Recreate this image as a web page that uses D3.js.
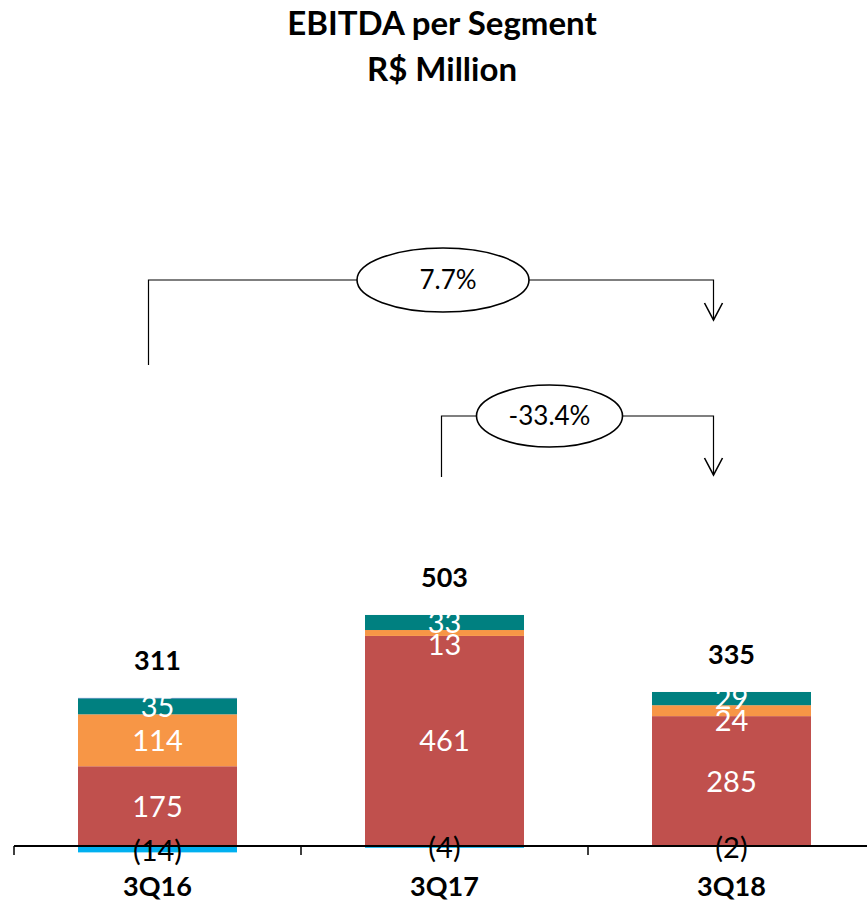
<!DOCTYPE html>
<html><head><meta charset="utf-8">
<script src="https://cdn.jsdelivr.net/npm/d3@7"></script>
<style>
html,body{margin:0;padding:0;background:#fff;}
svg{display:block;font-family:Lato,"Open Sans",sans-serif;}
</style></head>
<body>
<svg id="chart" width="867" height="902"></svg>
<script>
const title = ["EBITDA per Segment", "R$ Million"];
const categories = ["3Q16", "3Q17", "3Q18"];
const seriesRed = [175, 461, 285];
const seriesOrange = [114, 13, 24];
const seriesTeal = [35, 33, 29];
const seriesNavy = [1, 0, 0];
const seriesNegative = [-14, -4, -2];
const totals = [311, 503, 335];
const growthFrom = [0, 1];
const growthTo = [2, 2];
const growthLabels = ["7.7%", "-33.4%"];

const stackOrder = [
  {values: seriesRed, color: "#C0504D", label: true},
  {values: seriesOrange, color: "#F79646", label: true},
  {values: seriesTeal, color: "#008080", label: true},
  {values: seriesNavy, color: "#4472C4", label: false}
];

const svg = d3.select("#chart");
const x = d3.scaleBand().domain(categories).range([14, 875]).paddingInner(0.446).paddingOuter(0.223);
const y = d3.scaleLinear().domain([0, 600]).range([846, 572.6]);

// title
svg.selectAll("text.title").data(title).join("text")
  .attr("x", 442).attr("y", (d, i) => 23 + i * 46)
  .attr("dy", "0.36em")
  .attr("text-anchor", "middle").attr("font-weight", "bold").attr("font-size", 33)
  .text(d => d);

const g = svg.append("g");

categories.forEach((cat, i) => {
  let base = 0;
  const segs = [];
  stackOrder.forEach(s => {
    const v = s.values[i];
    const y0 = y(base), y1 = y(base + v);
    if (v > 0) {
      g.append("rect").attr("x", x(cat)).attr("width", x.bandwidth())
        .attr("y", y1).attr("height", y0 - y1).attr("fill", s.color);
    }
    if (s.label) segs.push({v, c: (y0 + y1) / 2});
    base += v;
  });
  // negative
  const nv = seriesNegative[i];
  g.append("rect").attr("x", x(cat)).attr("width", x.bandwidth())
    .attr("y", y(0)).attr("height", y(nv) - y(0)).attr("fill", "#00B0F0");

  // labels, top-down collision avoidance
  const rev = segs.slice().reverse();
  let prev = -Infinity;
  rev.forEach(s => {
    const cy = Math.max(s.c, prev + 22);
    prev = cy;
    g.append("text").attr("x", x(cat) + x.bandwidth() / 2).attr("y", cy)
      .attr("dy", "0.36em").attr("text-anchor", "middle").attr("fill", "#fff")
      .attr("font-size", 29).text(s.v);
  });
  g.append("text").attr("x", x(cat) + x.bandwidth() / 2).attr("y", (y(0) + y(nv)) / 2 + 1)
    .attr("dy", "0.36em").attr("text-anchor", "middle").attr("fill", "#000")
    .attr("font-size", 29).text("(" + Math.abs(nv) + ")");
  // total
  const top = y(d3.sum(stackOrder, s => s.values[i]));
  g.append("text").attr("x", x(cat) + x.bandwidth() / 2).attr("y", top - 38)
    .attr("dy", "0.36em").attr("text-anchor", "middle").attr("font-weight", "bold")
    .attr("font-size", 27).text(totals[i]);
  // category label
  g.append("text").attr("x", x(cat) + x.bandwidth() / 2).attr("y", 886)
    .attr("dy", "0.36em").attr("text-anchor", "middle").attr("font-weight", "bold")
    .attr("font-size", 27).text(cat);
});

// axis
const step = x.step();
const x0 = x.range()[0];
g.append("line").attr("x1", x0).attr("x2", 867).attr("y1", y(0)).attr("y2", y(0))
  .attr("stroke", "#000").attr("stroke-width", 2);
d3.range(categories.length + 1).forEach(k => {
  g.append("line").attr("x1", x0 + k * step).attr("x2", x0 + k * step)
    .attr("y1", y(0)).attr("y2", y(0) + 9).attr("stroke", "#000").attr("stroke-width", 1.5);
});

// growth brackets
const bracketY = [280, 416];
const bottomY = [365, 477];
const arrowY = [320, 475];
const ellW = [172, 146];
const ellH = [64, 62];
const ctr = c => x(c) + x.bandwidth() / 2;
growthLabels.forEach((lab, k) => {
  const xa = ctr(categories[growthFrom[k]]) - (k === 0 ? 9 : 3);
  const xb = ctr(categories[growthTo[k]]) - 18;
  const by = bracketY[k];
  const ex = (xa + xb) / 2 + (k === 0 ? 12 : 0) + (k === 1 ? -28 : 0);
  g.append("path")
    .attr("d", `M${xa},${bottomY[k]} V${by} H${xb} V${arrowY[k]}`)
    .attr("fill", "none").attr("stroke", "#000").attr("stroke-width", 1.2);
  g.append("path")
    .attr("d", `M${xb - 9},${arrowY[k] - 17} L${xb},${arrowY[k]} L${xb + 9},${arrowY[k] - 17}`)
    .attr("fill", "none").attr("stroke", "#000").attr("stroke-width", 1.6);
  g.append("ellipse").attr("cx", ex).attr("cy", by).attr("rx", ellW[k] / 2).attr("ry", ellH[k] / 2)
    .attr("fill", "#fff").attr("stroke", "#000").attr("stroke-width", 1.6);
  g.append("text").attr("x", ex + (k === 0 ? 5 : 0)).attr("y", by).attr("dy", "0.36em")
    .attr("text-anchor", "middle").attr("font-size", 26).text(lab);
});
</script>
</body></html>
